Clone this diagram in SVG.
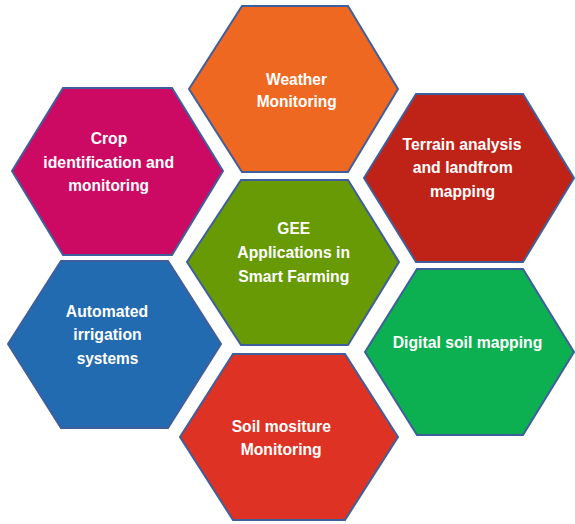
<svg xmlns="http://www.w3.org/2000/svg" width="575" height="524" viewBox="0 0 575 524">
  <style>
    .hex { stroke: #3F5F9C; stroke-width: 2; stroke-linejoin: miter; }
    .lbl { font-family: "Liberation Sans", Arial, sans-serif; font-weight: bold; font-size: 17px; fill: #ffffff; text-anchor: middle; }
  </style>
  <rect width="575" height="524" fill="#ffffff"/>

  <g id="weather">
    <polygon class="hex" fill="#EF6821" points="242,6 348,6 398,89 348,172 242,172 189,89"/>
    <text class="lbl" x="296.5" y="85" textLength="61" lengthAdjust="spacingAndGlyphs">Weather</text>
    <text class="lbl" x="296.7" y="107" textLength="80" lengthAdjust="spacingAndGlyphs">Monitoring</text>
  </g>

  <g id="crop">
    <polygon class="hex" fill="#CC0A64" points="63,88 172,88 223,171 172,255 63,255 12,171"/>
    <text class="lbl" x="109" y="144" textLength="36.6" lengthAdjust="spacingAndGlyphs">Crop</text>
    <text class="lbl" x="108.7" y="167.5" textLength="130.7" lengthAdjust="spacingAndGlyphs">identification and</text>
    <text class="lbl" x="108.7" y="191" textLength="80.7" lengthAdjust="spacingAndGlyphs">monitoring</text>
  </g>

  <g id="terrain">
    <polygon class="hex" fill="#BF2318" points="416,94 523,94 574,178 523,262 416,262 364,178"/>
    <text class="lbl" x="462" y="150" textLength="119" lengthAdjust="spacingAndGlyphs">Terrain analysis</text>
    <text class="lbl" x="462.7" y="173.3" textLength="100" lengthAdjust="spacingAndGlyphs">and landfrom</text>
    <text class="lbl" x="462.5" y="196.7" textLength="65" lengthAdjust="spacingAndGlyphs">mapping</text>
  </g>

  <g id="gee">
    <polygon class="hex" fill="#679A04" points="241,180 348,180 399,262 348,345 241,345 187,262"/>
    <text class="lbl" x="293.7" y="234" textLength="32.7" lengthAdjust="spacingAndGlyphs">GEE</text>
    <text class="lbl" x="293.7" y="258.3" textLength="112.7" lengthAdjust="spacingAndGlyphs">Applications in</text>
    <text class="lbl" x="293.8" y="281.7" textLength="111" lengthAdjust="spacingAndGlyphs">Smart Farming</text>
  </g>

  <g id="irrigation">
    <polygon class="hex" fill="#236BB0" points="61,261 168,261 221,344 168,428 61,428 8,344"/>
    <text class="lbl" x="107" y="316.7" textLength="82.3" lengthAdjust="spacingAndGlyphs">Automated</text>
    <text class="lbl" x="107.5" y="340" textLength="68.3" lengthAdjust="spacingAndGlyphs">irrigation</text>
    <text class="lbl" x="107.5" y="364.3" textLength="61.7" lengthAdjust="spacingAndGlyphs">systems</text>
  </g>

  <g id="digital-soil">
    <polygon class="hex" fill="#0CB050" points="417,269 523,269 574,352 523,435 417,435 365,352"/>
    <text class="lbl" x="467.5" y="348.3" textLength="149.7" lengthAdjust="spacingAndGlyphs">Digital soil mapping</text>
  </g>

  <g id="soil-moisture">
    <polygon class="hex" fill="#DE3224" points="233,354 345,354 398,437 345,520 233,520 180,437"/>
    <text class="lbl" x="281.3" y="431.7" textLength="99.3" lengthAdjust="spacingAndGlyphs">Soil mositure</text>
    <text class="lbl" x="281.2" y="455" textLength="81" lengthAdjust="spacingAndGlyphs">Monitoring</text>
  </g>

  <g id="connectors"/>
</svg>
